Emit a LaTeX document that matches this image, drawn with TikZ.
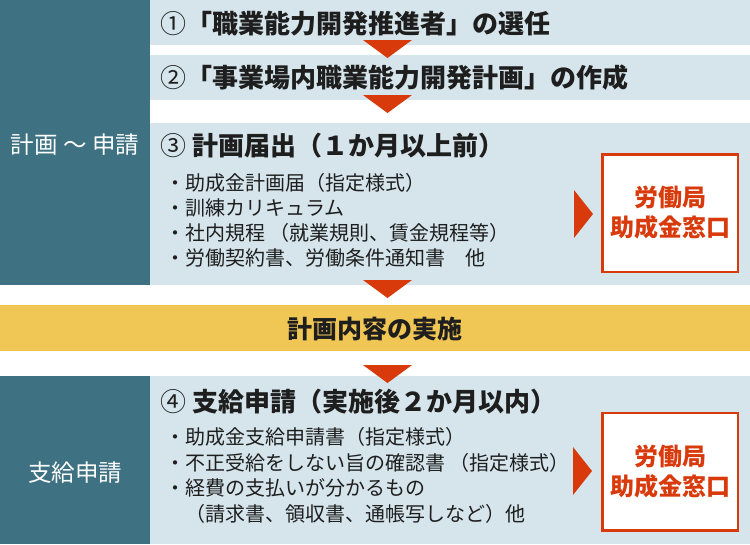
\documentclass[tikz,border=0pt]{standalone}
\usepackage{fontspec}
\setmainfont{Noto Sans CJK JP}
\definecolor{cTeal}{HTML}{3E7181}
\definecolor{cLight}{HTML}{D5E5EB}
\definecolor{cYellow}{HTML}{F0C654}
\definecolor{cRed}{HTML}{D93A0C}
\definecolor{cText}{HTML}{1E1E1E}
\tikzset{
  side/.style={fill=cTeal,draw=none,inner sep=0pt,anchor=north west},
  rowbox/.style={fill=cLight,draw=none,inner sep=0pt,anchor=north west},
  band/.style={fill=cYellow,draw=none,inner sep=0pt,anchor=north west},
  office/.style={fill=white,draw=cRed,line width=2.5pt,inner sep=0pt,
    minimum width=135.5pt,minimum height=117.5pt,text=cRed,align=center,
    font=\fontsize{24}{30}\selectfont\bfseries},
  sidelabel/.style={text=white,inner sep=0pt,font=\fontsize{23.5}{28}\selectfont},
  titletext/.style={text=cText,inner sep=0pt,anchor=west,font=\fontsize{26}{30}\selectfont\bfseries},
  itemtext/.style={text=cText,inner sep=0pt,anchor=west,font=\fontsize{20}{24}\selectfont},
  downtip/.style={fill=cRed,draw=none},
}
\begin{document}
\begin{tikzpicture}[x=1pt,y=-1pt]
\useasboundingbox (0,0) rectangle (750,544);
\fill[white] (0,0) rectangle (750,544);
% blocks
\node[side,minimum width=150pt,minimum height=285pt] (s1) at (0,0) {};
\node[side,minimum width=150pt,minimum height=168pt] (s2) at (0,376) {};
\node[rowbox,minimum width=600pt,minimum height=45pt] (r1) at (150,0) {};
\node[rowbox,minimum width=600pt,minimum height=45pt] (r2) at (150,55) {};
\node[rowbox,minimum width=600pt,minimum height=162pt] (r3) at (150,123) {};
\node[band,minimum width=750pt,minimum height=46pt] (b) at (0,305) {};
\node[rowbox,minimum width=600pt,minimum height=168pt] (r4) at (150,376) {};
% side labels
\node[sidelabel] (l1) at (75,145) {計画 〜 申請};
\node[sidelabel] (l2) at (75,473) {支給申請};
% titles
\node[titletext] (t1) at (160,24) {{\mdseries ①}「職業能力開発推進者」の選任};
\node[titletext] (t2) at (160,78) {{\mdseries ②}「事業場内職業能力開発計画」の作成};
\node[titletext] (t3) at (160,146) {{\mdseries ③}\hspace{6pt}計画届出（１か月以上前）};
\node[titletext] (t4) at (160,402) {{\mdseries ④}\hspace{6pt}支給申請（実施後２か月以内）};
\node[text=cText,inner sep=0pt,font=\fontsize{25}{30}\selectfont\bfseries] (bt) at (375,329) {計画内容の実施};
% items row 3
\node[itemtext] (i31) at (165,183) {・助成金計画届（指定様式）};
\node[itemtext] (i32) at (165,208) {・訓練カリキュラム};
\node[itemtext] (i33) at (165,233) {・社内規程 （就業規則、賃金規程等）};
\node[itemtext] (i34) at (165,258) {・労働契約書、労働条件通知書　他};
% items row 4
\node[itemtext] (i41) at (165,437) {・助成金支給申請書（指定様式）};
\node[itemtext] (i42) at (165,463) {・不正受給をしない旨の確認書 （指定様式）};
\node[itemtext] (i43) at (165,488) {・経費の支払いが分かるもの};
\node[itemtext] (i44) at (165,514) {　（請求書、領収書、通帳写しなど）他};
% offices
\node[office] (o1) at (670,213) {労働局\\助成金窓口};
\node[office] (o2) at (670,471.5) {労働局\\助成金窓口};
% down arrows
\fill[downtip] (363,40) -- (412,40) -- (387.5,58) -- cycle;
\fill[downtip] (363,95) -- (412,95) -- (387.5,113) -- cycle;
\fill[downtip] (363,280) -- (412,280) -- (387.5,298) -- cycle;
\fill[downtip] (363,365) -- (412,365) -- (387.5,383) -- cycle;
% right arrows
\fill[downtip] (574,190) -- (593,214) -- (574,238) -- cycle;
\fill[downtip] (573,447) -- (592,471) -- (573,495) -- cycle;
\end{tikzpicture}
\end{document}
